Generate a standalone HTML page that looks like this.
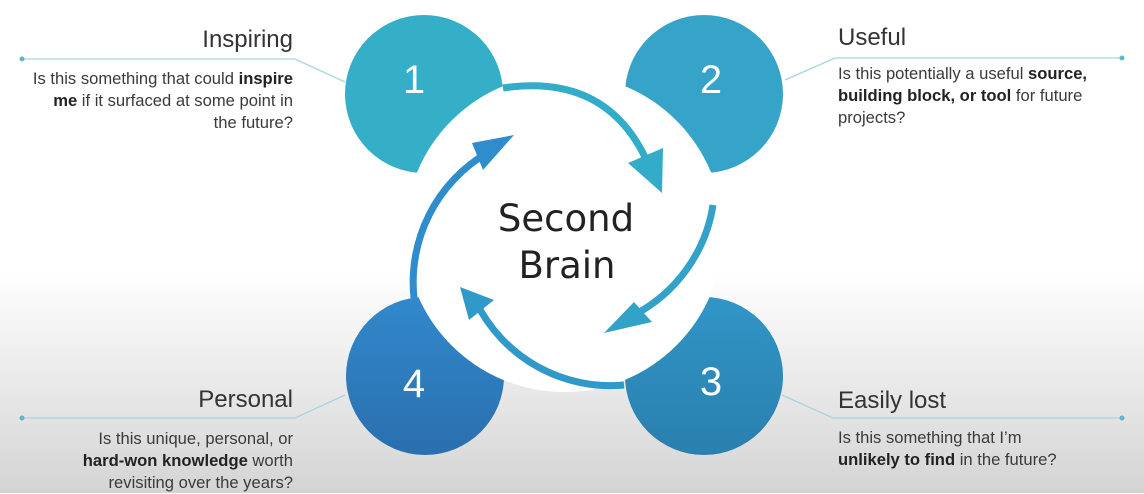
<!DOCTYPE html>
<html><head><meta charset="utf-8"><style>
html,body{margin:0;padding:0}
body{width:1144px;height:493px;overflow:hidden;background:linear-gradient(#fff 0,#fff 270px,#d4d4d4 493px);font-family:"Liberation Sans","DejaVu Sans",sans-serif;color:#333;position:relative}
.t{position:absolute;font-size:24px;color:#333}
.b{position:absolute;font-size:16.6px;line-height:22px;color:#3a3a3a}
.r{text-align:right}
b{font-weight:bold;color:#222}
</style></head><body>
<svg width="1144" height="493" style="position:absolute;left:0;top:0">
<defs>
<linearGradient id="g4" x1="0" y1="0" x2="0" y2="1"><stop offset="0" stop-color="#3189cc"/><stop offset="1" stop-color="#2a6fae"/></linearGradient>
<linearGradient id="g3" x1="0" y1="0" x2="0" y2="1"><stop offset="0" stop-color="#3096c6"/><stop offset="1" stop-color="#2a7fae"/></linearGradient>
</defs>
<g stroke="#a9d3de" stroke-width="1.3" fill="none">
<polyline points="22,59 295,59 345,82"/>
<polyline points="1122,58 835,58 785,80"/>
<polyline points="22,418 295,418 345,395"/>
<polyline points="1122,418 833,418 782,395"/>
</g>
<g fill="#5fb8c4"><circle cx="22" cy="59" r="2.5"/><circle cx="1122" cy="58" r="2.5"/><circle cx="22" cy="418" r="2.5"/><circle cx="1122" cy="418" r="2.5"/></g>
<circle cx="424" cy="94" r="79" fill="#35afc8"/>
<circle cx="704" cy="94" r="79" fill="#36a4c9"/>
<circle cx="704" cy="376" r="79" fill="url(#g3)"/>
<circle cx="425" cy="376" r="79" fill="url(#g4)"/>
<circle cx="564" cy="233" r="159" fill="#fff"/>
<g fill="none" stroke-width="7">
<path d="M503 88 Q610 72 650 168" stroke="#33acc9"/>
<path d="M713 205 A150 150 0 0 1 632 316" stroke="#33a2c9"/>
<path d="M624 385 A150 150 0 0 1 476 302" stroke="#3199c9"/>
<path d="M414 298 A150 150 0 0 1 487 153" stroke="#2f8ccd"/>
</g>
<polygon points="662,193 628,163 663,148" fill="#33acc9"/>
<polygon points="604,333 634,302 652,322" fill="#33a2c9"/>
<polygon points="460,287 494,300 469,320" fill="#3199c9"/>
<polygon points="514,135 483,170 472,143" fill="#2f8ccd"/>
<g fill="#fff" font-size="40" font-family="Liberation Sans, DejaVu Sans, sans-serif" text-anchor="middle">
<text x="414" y="93">1</text><text x="711" y="93">2</text><text x="711" y="395">3</text><text x="414" y="397">4</text>
</g>
<g fill="#222" font-size="37" font-family="DejaVu Sans, Liberation Sans, sans-serif" text-anchor="middle">
<text x="566" y="231">Second</text><text x="567" y="278">Brain</text>
</g>
</svg>
<div class="t r" style="right:851px;top:26px">Inspiring</div>
<div class="b r" style="right:851px;top:68px;width:320px">Is this something that could <b>inspire<br>me</b> if it surfaced at some point in<br>the future?</div>
<div class="t" style="left:838px;top:24px">Useful</div>
<div class="b" style="left:838px;top:63px">Is this potentially a useful <b>source,<br>building block, or tool</b> for future<br>projects?</div>
<div class="t r" style="right:851px;top:386px">Personal</div>
<div class="b r" style="right:851px;top:428px;width:320px">Is this unique, personal, or<br><b>hard-won knowledge</b> worth<br>revisiting over the years?</div>
<div class="t" style="left:838px;top:387px">Easily lost</div>
<div class="b" style="left:838px;top:427px">Is this something that I’m<br><b>unlikely to find</b> in the future?</div>
</body></html>
